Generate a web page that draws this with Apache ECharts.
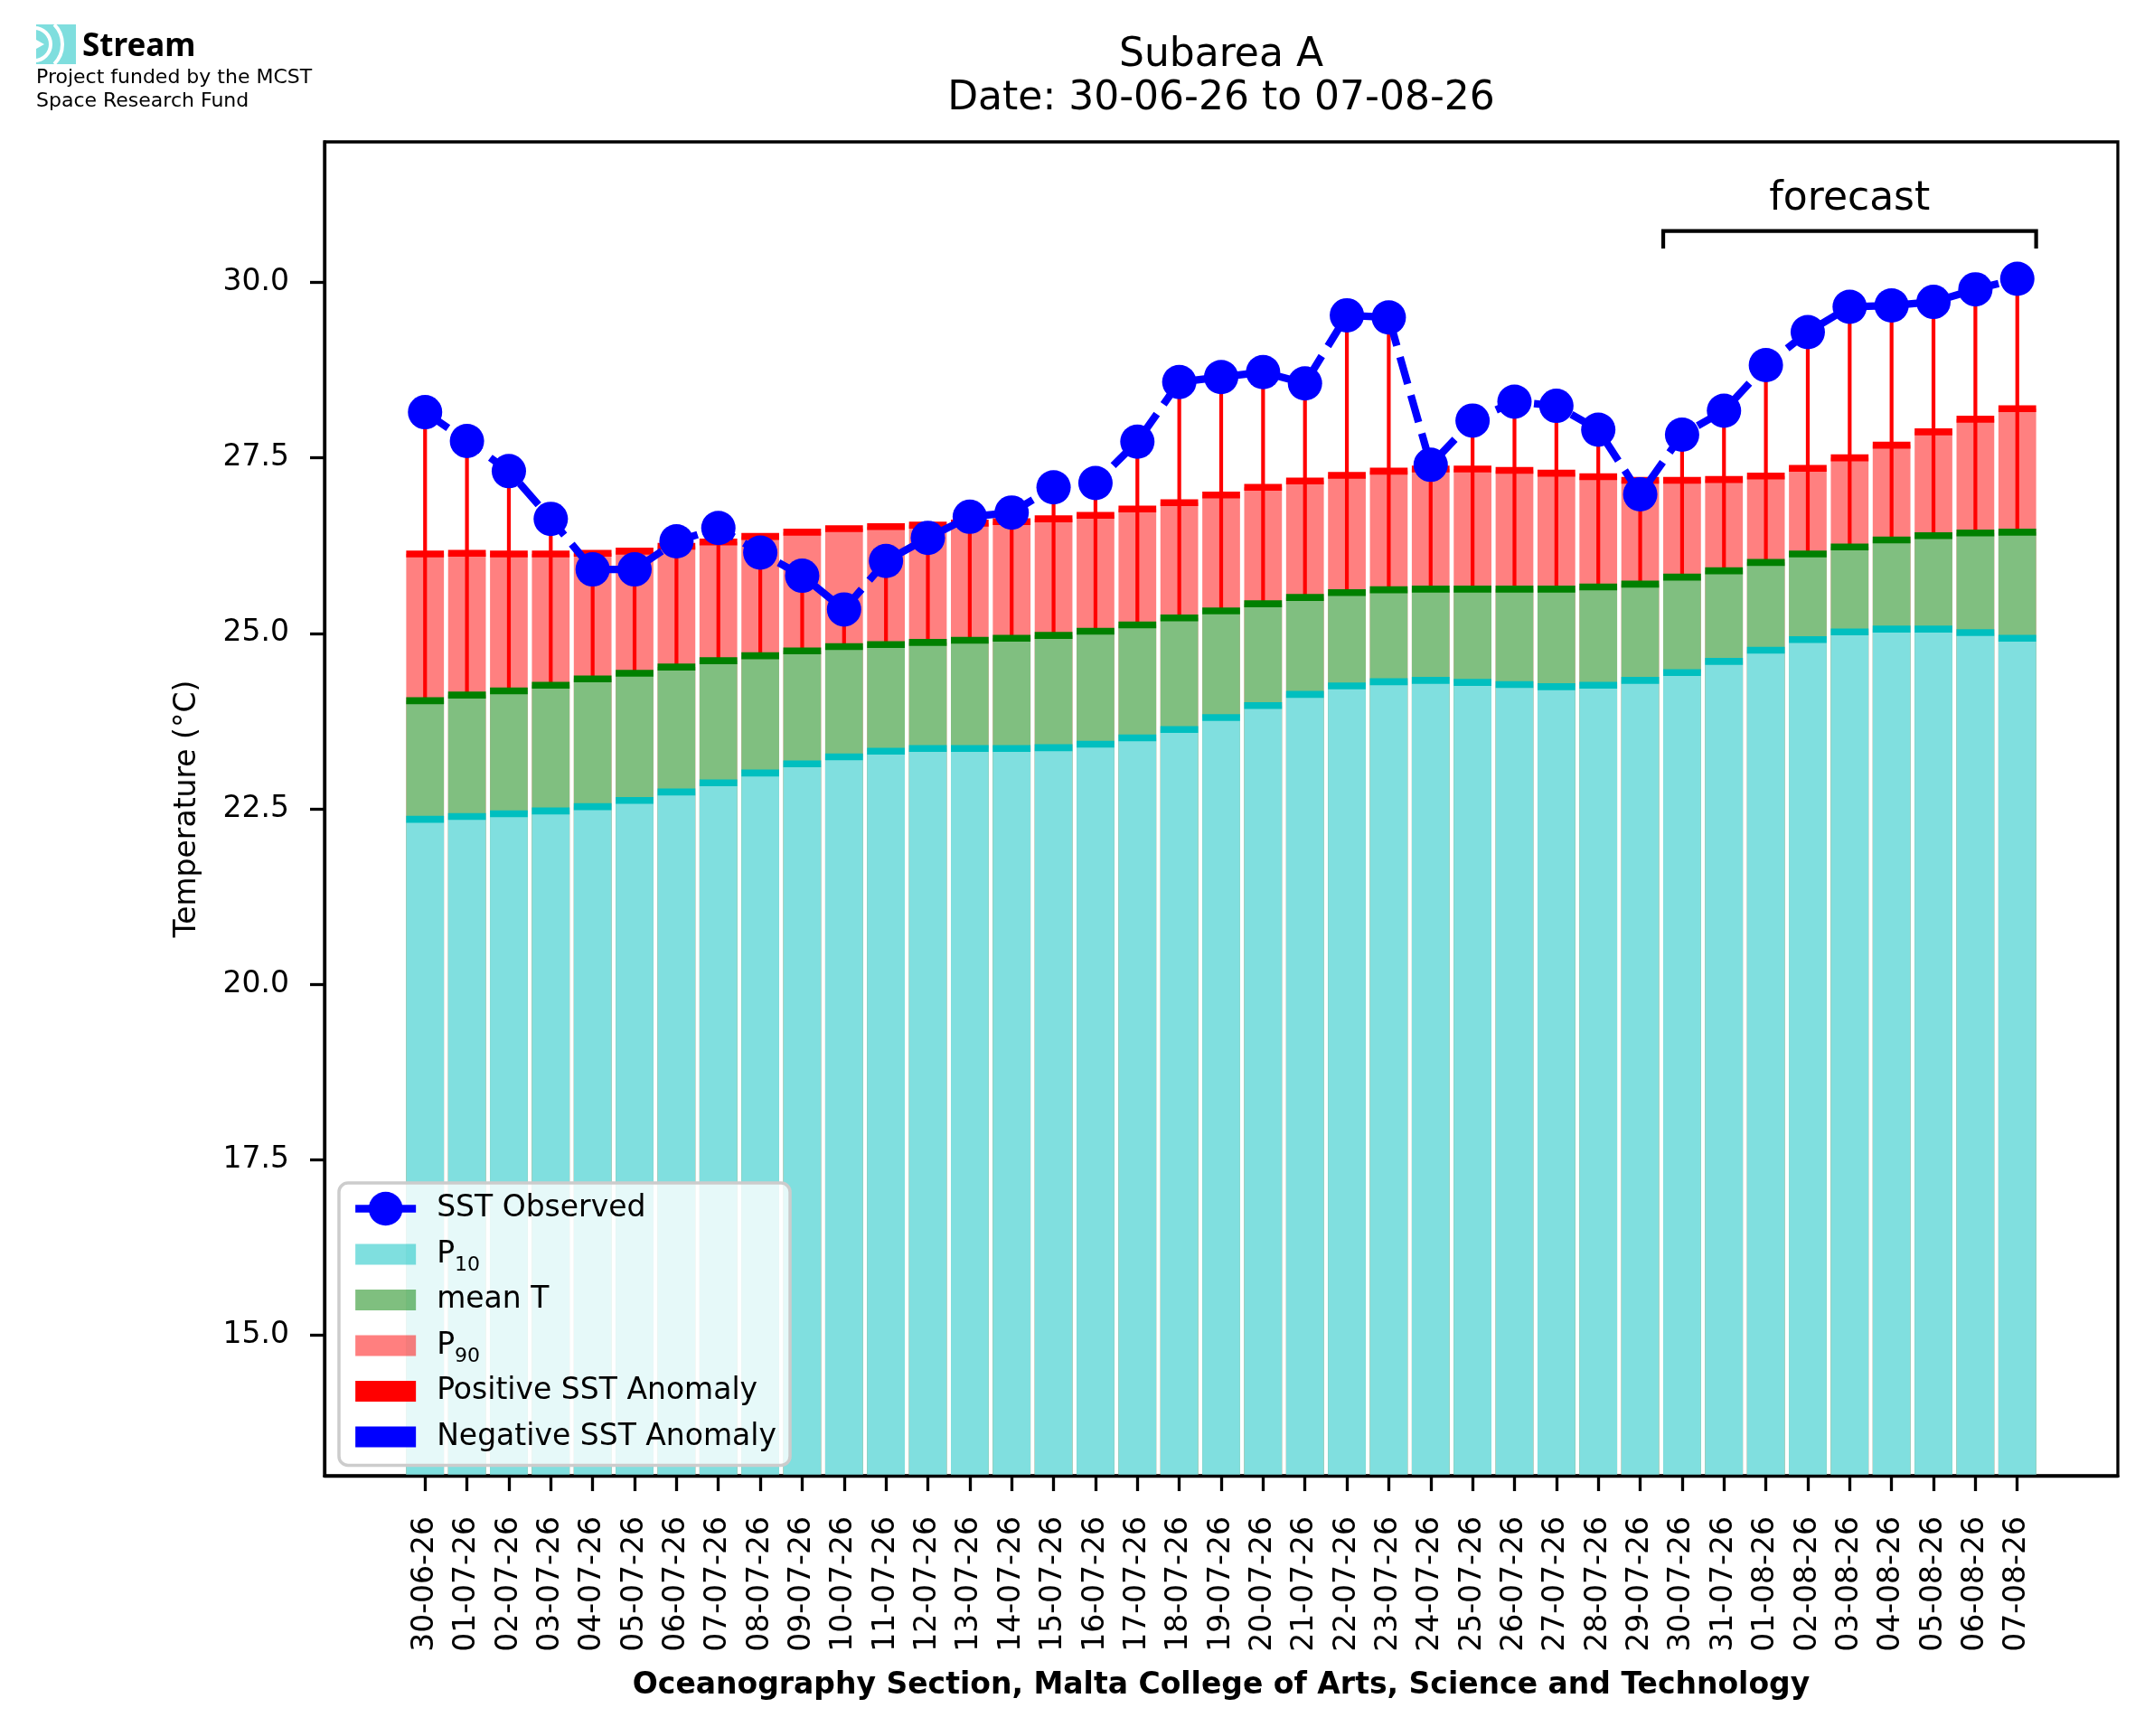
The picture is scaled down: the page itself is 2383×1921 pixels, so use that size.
<!DOCTYPE html>
<html><head><meta charset="utf-8">
<script src="https://cdn.jsdelivr.net/npm/echarts@6/dist/echarts.min.js"></script>
<style>html,body{margin:0;padding:0;background:#fff}#c{width:2383px;height:1921px}</style>
</head><body><div id="c"></div>
<script>
const dates = ['30-06-26','01-07-26','02-07-26','03-07-26','04-07-26','05-07-26','06-07-26','07-07-26','08-07-26','09-07-26',
  '10-07-26','11-07-26','12-07-26','13-07-26','14-07-26','15-07-26','16-07-26','17-07-26','18-07-26','19-07-26',
  '20-07-26','21-07-26','22-07-26','23-07-26','24-07-26','25-07-26','26-07-26','27-07-26','28-07-26','29-07-26',
  '30-07-26','31-07-26','01-08-26','02-08-26','03-08-26','04-08-26','05-08-26','06-08-26','07-08-26'];
const p10 = [22.35,22.39,22.43,22.47,22.53,22.62,22.74,22.87,23.01,23.14,
  23.24,23.32,23.36,23.36,23.36,23.37,23.42,23.51,23.63,23.80,
  23.97,24.13,24.25,24.31,24.33,24.30,24.27,24.24,24.26,24.33,
  24.44,24.60,24.76,24.91,25.02,25.06,25.06,25.01,24.93];
const meanT = [24.04,24.12,24.18,24.26,24.35,24.43,24.52,24.61,24.68,24.75,
  24.81,24.84,24.87,24.90,24.93,24.97,25.03,25.12,25.22,25.32,
  25.42,25.51,25.58,25.62,25.63,25.63,25.63,25.63,25.66,25.70,
  25.80,25.89,26.01,26.13,26.23,26.33,26.39,26.43,26.44];
const p90 = [26.13,26.14,26.13,26.13,26.14,26.17,26.24,26.30,26.38,26.44,
  26.49,26.52,26.54,26.57,26.59,26.63,26.68,26.77,26.86,26.97,
  27.08,27.17,27.25,27.31,27.34,27.34,27.32,27.28,27.23,27.18,
  27.18,27.19,27.24,27.35,27.50,27.68,27.87,28.05,28.20];
const sstObserved = [28.15,27.74,27.31,26.63,25.91,25.91,26.31,26.50,26.15,25.82,
  25.34,26.03,26.36,26.66,26.72,27.08,27.14,27.73,28.58,28.65,
  28.72,28.56,29.53,29.50,27.40,28.03,28.30,28.24,27.90,26.98,
  27.83,28.17,28.82,29.29,29.65,29.67,29.72,29.90,30.05];
const yTicks = [15, 17.5, 20, 22.5, 25, 27.5, 30];
const forecastSpan = ['30-07-26', '07-08-26'];
const forecastLevels = [31.18, 30.73, 30.48]; // label, bracket line, bracket tick end

const idx = dates.map((d, i) => i);
const FONT = 'DejaVu Sans';
const HALF_BAR = 0.45;
const PATCH = 'path://M0,0H67V23H0Z';
const legendRich = {'P₁₀': '{m|P}{s|10}', 'P₉₀': '{m|P}{s|90}'};

const chart = echarts.init(document.getElementById('c'), null, {renderer: 'canvas'});

const option = {
  backgroundColor: '#ffffff',
  animation: false,
  textStyle: {fontFamily: FONT, color: '#000'},
  title: {
    text: 'Subarea A\nDate: 30-06-26 to 07-08-26',
    left: 1351, top: 38, textAlign: 'center', padding: 0,
    textStyle: {fontFamily: FONT, fontSize: 44, fontWeight: 'normal', lineHeight: 48, color: '#000'}
  },
  grid: {
    left: 359, top: 157, width: 1984, height: 1476,
    show: true, borderColor: '#000', borderWidth: 3.3, backgroundColor: 'transparent'
  },
  legend: {
    orient: 'vertical', left: 375, top: 1309, z: 20,
    itemWidth: 67, itemHeight: 47, itemGap: 3.5,
    padding: [5, 15, 8, 14],
    backgroundColor: 'rgba(255,255,255,0.8)',
    borderColor: '#cccccc', borderWidth: 3.5, borderRadius: 10,
    formatter: name => legendRich[name] || name,
    textStyle: {
      fontFamily: FONT, fontSize: 33, lineHeight: 47, color: '#000', padding: [0, 0, 0, 18],
      rich: {
        m: {fontFamily: FONT, fontSize: 33, lineHeight: 47, color: '#000'},
        s: {fontFamily: FONT, fontSize: 22, lineHeight: 30, verticalAlign: 'bottom', color: '#000'}
      }
    },
    data: [
      {name: 'SST Observed', lineStyle: {type: 'solid', width: 8.3, color: '#0000ff'}},
      {name: 'P₁₀', icon: PATCH, itemStyle: {color: 'rgba(0,191,191,0.5)'}},
      {name: 'mean T', icon: PATCH, itemStyle: {color: 'rgba(0,128,0,0.5)'}},
      {name: 'P₉₀', icon: PATCH, itemStyle: {color: 'rgba(255,0,0,0.5)'}},
      {name: 'Positive SST Anomaly', icon: PATCH},
      {name: 'Negative SST Anomaly', icon: PATCH}
    ]
  },
  xAxis: {
    type: 'value', min: -2.4, max: 40.4, z: 10,
    name: 'Oceanography Section, Malta College of Arts, Science and Technology',
    nameLocation: 'middle', nameGap: 216,
    nameTextStyle: {fontFamily: FONT, fontSize: 33, fontWeight: 'bold', color: '#000'},
    axisLine: {show: true, onZero: false, lineStyle: {color: '#000', width: 3.3}},
    axisTick: {show: true, customValues: idx, length: 17, lineStyle: {color: '#000', width: 3.3}},
    axisLabel: {show: true, customValues: idx, rotate: 90, margin: 45, fontSize: 33, fontFamily: FONT, color: '#000',
      formatter: v => dates[Math.round(v)]},
    splitLine: {show: false}
  },
  yAxis: {
    type: 'value', min: 13, max: 32, z: 10,
    name: 'Temperature (°C)', nameLocation: 'middle', nameGap: 135,
    nameTextStyle: {fontFamily: FONT, fontSize: 33, color: '#000'},
    axisLine: {show: true, onZero: false, lineStyle: {color: '#000', width: 3.3}},
    axisTick: {show: true, customValues: yTicks, length: 16, lineStyle: {color: '#000', width: 3.3}},
    axisLabel: {show: true, customValues: yTicks, margin: 39, fontSize: 33, fontFamily: FONT, color: '#000',
      formatter: v => Number(v).toFixed(1)},
    splitLine: {show: false}
  },
  graphic: [
    {type: 'rect', shape: {x: 40, y: 27, width: 44, height: 44}, style: {fill: '#7fdede'}},
    {type: 'arc', shape: {cx: 38, cy: 49, r: 18, startAngle: -Math.PI / 2, endAngle: Math.PI / 2},
      style: {stroke: '#ffffff', lineWidth: 4, fill: null}},
    {type: 'arc', shape: {cx: 38, cy: 49, r: 31, startAngle: -0.78, endAngle: 0.78},
      style: {stroke: '#ffffff', lineWidth: 4, fill: null}},
    {type: 'polygon', shape: {points: [[40, 44], [49, 49], [40, 54]]}, style: {fill: '#ffffff'}},
    {type: 'text', x: 91, y: 52, style: {text: 'Stream', font: 'bold 35px "Noto Sans"', fill: '#000', verticalAlign: 'middle'}},
    {type: 'text', x: 40, y: 86.5, style: {text: 'Project funded by the MCST', font: '22px "DejaVu Sans"', fill: '#000', verticalAlign: 'middle'}},
    {type: 'text', x: 40, y: 112, style: {text: 'Space Research Fund', font: '22px "DejaVu Sans"', fill: '#000', verticalAlign: 'middle'}}
  ],
  series: [
    {
      name: 'P₉₀', type: 'bar', barWidth: '90%', barGap: '-100%', clip: true, z: 2,
      itemStyle: {color: '#ff8080'},
      data: idx.map(i => [i, p90[i]])
    },
    {
      name: 'mean T', type: 'bar', barWidth: '90%', barGap: '-100%', clip: true, z: 2,
      itemStyle: {color: '#80bf80'},
      data: idx.map(i => [i, meanT[i]])
    },
    {
      name: 'P₁₀', type: 'bar', barWidth: '90%', barGap: '-100%', clip: true, z: 2,
      itemStyle: {color: '#80dfdf'},
      data: idx.map(i => [i, p10[i]])
    },
    {
      name: 'Positive SST Anomaly', type: 'custom', z: 3, itemStyle: {color: '#ff0000'},
      encode: {x: 0, y: [1, 2]},
      data: idx.filter(i => sstObserved[i] >= meanT[i]).map(i => [i, meanT[i], sstObserved[i]]),
      renderItem: (params, api) => {
        const a = api.coord([api.value(0), api.value(1)]);
        const b = api.coord([api.value(0), api.value(2)]);
        return {type: 'line', shape: {x1: a[0], y1: a[1], x2: b[0], y2: b[1]}, style: {stroke: '#ff0000', lineWidth: 4.2}};
      }
    },
    {
      name: 'Negative SST Anomaly', type: 'custom', z: 3, itemStyle: {color: '#0000ff'},
      encode: {x: 0, y: [1, 2]},
      data: idx.filter(i => sstObserved[i] < meanT[i]).map(i => [i, meanT[i], sstObserved[i]]),
      renderItem: (params, api) => {
        const a = api.coord([api.value(0), api.value(1)]);
        const b = api.coord([api.value(0), api.value(2)]);
        return {type: 'line', shape: {x1: a[0], y1: a[1], x2: b[0], y2: b[1]}, style: {stroke: '#0000ff', lineWidth: 4.2}};
      }
    },
    {
      name: 'caps', type: 'custom', silent: true, z: 4,
      encode: {x: 0, y: [1, 2, 3]},
      data: idx.map(i => [i, p10[i], meanT[i], p90[i]]),
      renderItem: (params, api) => {
        const w = api.size([HALF_BAR * 2, 0])[0];
        const h = 7.6;
        const mk = (v, color) => {
          const p = api.coord([api.value(0), v]);
          return {type: 'rect', shape: {x: p[0] - w / 2, y: p[1] - h / 2, width: w, height: h}, style: {fill: color}};
        };
        return {type: 'group', children: [
          mk(api.value(1), '#00bfbf'), mk(api.value(2), '#008000'), mk(api.value(3), '#ff0000')
        ]};
      }
    },
    {
      name: 'SST Observed', type: 'line', z: 5,
      symbol: 'circle', symbolSize: 38, showSymbol: true, showAllSymbol: true,
      itemStyle: {color: '#0000ff'},
      lineStyle: {color: '#0000ff', width: 8.3, type: [31, 13]},
      data: idx.map(i => [i, sstObserved[i]])
    },
    {
      name: 'forecast', type: 'custom', silent: true, z: 6,
      encode: {x: [0, 1], y: [2, 3, 4]},
      data: [[dates.indexOf(forecastSpan[0]) - HALF_BAR, dates.indexOf(forecastSpan[1]) + HALF_BAR,
              forecastLevels[0], forecastLevels[1], forecastLevels[2]]],
      renderItem: (params, api) => {
        const x0 = api.value(0), x1 = api.value(1);
        const a = api.coord([x0, api.value(4)]);
        const b = api.coord([x0, api.value(3)]);
        const c = api.coord([x1, api.value(3)]);
        const d = api.coord([x1, api.value(4)]);
        const t = api.coord([(x0 + x1) / 2, api.value(2)]);
        return {type: 'group', children: [
          {type: 'polyline', shape: {points: [a, b, c, d]}, style: {stroke: '#000', lineWidth: 4.2, fill: null}},
          {type: 'text', x: t[0], y: t[1], style: {text: 'forecast', font: '44px "DejaVu Sans"', fill: '#000', align: 'center', verticalAlign: 'middle'}}
        ]};
      }
    }
  ]
};
chart.setOption(option);
</script>
</body></html>
